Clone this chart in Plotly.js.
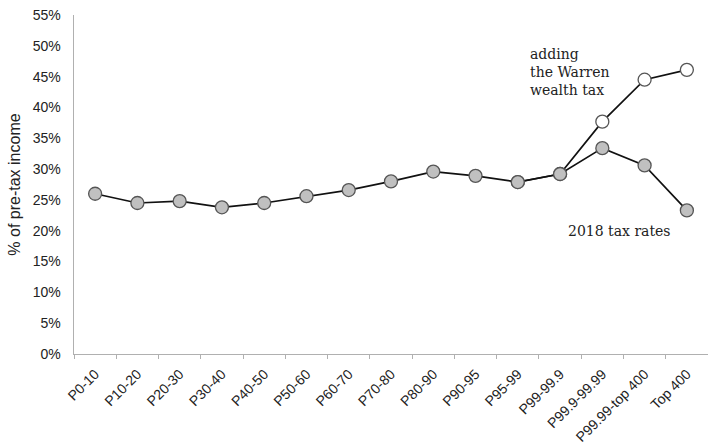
<!DOCTYPE html>
<html>
<head>
<meta charset="utf-8">
<script src="https://cdn.plot.ly/plotly-3.0.1.min.js"></script>
<style>html,body{margin:0;padding:0;background:#fff;}#chart{width:708px;height:444px;}</style>
</head>
<body>
<div id="chart"></div>
<script>
var groups = ["P0-10","P10-20","P20-30","P30-40","P40-50","P50-60","P60-70","P70-80","P80-90","P90-95","P95-99","P99-99.9","P99.9-99.99","P99.99-top 400","Top 400"];
var rates2018 = [26.0, 24.5, 24.8, 23.8, 24.5, 25.6, 26.6, 28.0, 29.6, 28.9, 27.9, 29.2, 33.4, 30.6, 23.3];
var warrenRates = [null, null, null, null, null, null, null, null, null, null, 27.9, 29.2, 37.7, 44.5, 46.1];
var yTicks = [0,5,10,15,20,25,30,35,40,45,50,55];
var yTickText = yTicks.map(function(v){return v + "%";});

var traces = [
  {x: groups, y: warrenRates, type: "scatter", mode: "lines+markers", connectgaps: false,
   line: {color: "#111", width: 1.7},
   marker: {size: 13, color: "#ffffff", line: {color: "#555", width: 1.3}}, hoverinfo: "skip"},
  {x: groups, y: rates2018, type: "scatter", mode: "lines+markers",
   line: {color: "#111", width: 1.7},
   marker: {size: 13, color: "#c0c0c0", line: {color: "#555", width: 1.3}}, hoverinfo: "skip"}
];

var layout = {
  width: 708, height: 444,
  margin: {l: 74, r: 0, t: 15, b: 90},
  paper_bgcolor: "#fff", plot_bgcolor: "#fff",
  showlegend: false,
  font: {family: "Liberation Sans, Arial, sans-serif", color: "#333"},
  xaxis: {
    type: "category", showgrid: false, zeroline: false,
    showline: true, linecolor: "#b0b0b0", linewidth: 1.4,
    ticks: "outside", tickson: "boundaries", ticklen: 4, tickcolor: "#b0b0b0",
    ticklabelstandoff: 5,
    tickangle: -45, tickfont: {size: 14, color: "#222"},
    range: [-0.5, 14.5]
  },
  yaxis: {
    range: [0, 55], tickvals: yTicks, ticktext: yTickText,
    showgrid: false, zeroline: false,
    showline: true, linecolor: "#b0b0b0", linewidth: 1.4,
    ticks: "", ticklabelstandoff: 9,
    tickfont: {size: 14, color: "#222"},
    title: {text: "% of pre-tax income", font: {size: 16, color: "#222"}, standoff: 8}
  },
  annotations: [
    {xref: "paper", yref: "paper", x: 0.716, y: 0.915, xanchor: "left", yanchor: "top", align: "left", showarrow: false,
     text: "adding<br>the Warren<br>wealth tax", font: {family: "DejaVu Serif, Liberation Serif, serif", size: 14, color: "#222"}},
    {xref: "paper", yref: "paper", x: 0.776, y: 0.363, xanchor: "left", yanchor: "middle", showarrow: false,
     text: "2018 tax rates", font: {family: "DejaVu Serif, Liberation Serif, serif", size: 14, color: "#222"}}
  ]
};

Plotly.newPlot("chart", traces, layout, {displayModeBar: false, staticPlot: true});
</script>
</body>
</html>
